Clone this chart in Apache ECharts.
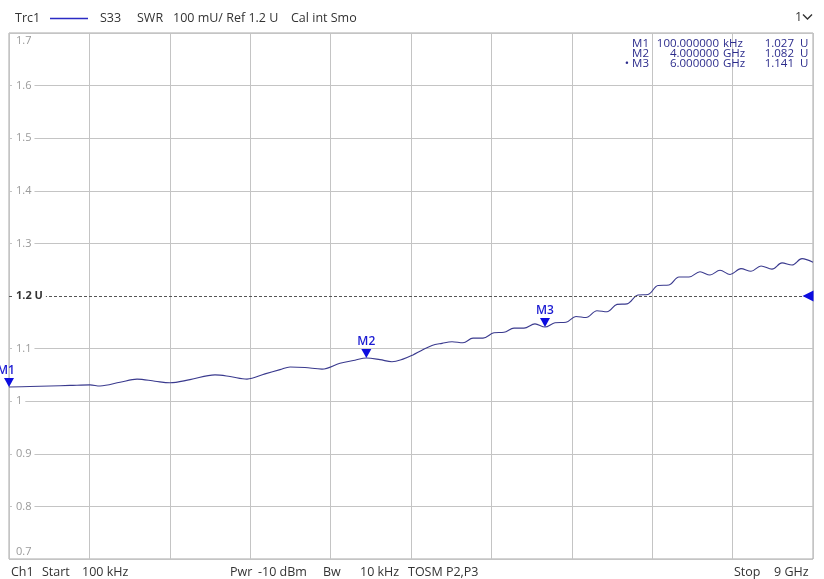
<!DOCTYPE html>
<html>
<head>
<meta charset="utf-8">
<script src="https://cdn.jsdelivr.net/npm/echarts@6/dist/echarts.min.js"></script>
<style>
html,body{margin:0;padding:0;background:#fff;}
#chart{width:824px;height:579px;}
</style>
</head>
<body>
<div id="chart"></div>
<script>
// ---- data ----
const freqGHz = [0.0001,0.235,0.459,0.683,0.907,1.019,1.243,1.433,1.634,1.802,2.026,2.306,2.474,2.664,2.866,3.034,3.146,3.313,3.504,3.705,3.873,4.0,4.153,4.287,4.410,4.522,
  4.612,4.735,4.847,4.959,5.082,5.194,5.306,5.429,5.541,5.653,5.765,5.888,6.0,6.112,6.235,6.347,6.459,6.582,6.694,6.806,6.918,7.041,7.153,7.265,7.388,7.500,7.612,7.735,7.847,7.959,8.071,8.194,8.306,8.418,8.541,8.653,8.765,8.877,9.0];
const swr = [1.027,1.028,1.029,1.030,1.031,1.029,1.036,1.042,1.038,1.035,1.041,1.050,1.047,1.042,1.052,1.060,1.065,1.064,1.061,1.072,1.078,1.082,1.079,1.075,1.080,1.088,
  1.096,1.106,1.110,1.113,1.111,1.120,1.120,1.130,1.131,1.139,1.139,1.147,1.141,1.149,1.150,1.161,1.159,1.172,1.170,1.184,1.185,1.202,1.203,1.220,1.221,1.236,1.236,1.246,1.240,1.249,1.241,1.252,1.247,1.257,1.251,1.263,1.259,1.271,1.264];

const markerNames = ['M1','M2','M3'];
const markerFreqGHz = [0.0001, 4.0, 6.0];
const markerSWR = [1.027, 1.082, 1.141];
const markerFreqText = ['100.000000','4.000000','6.000000'];
const markerUnit = ['kHz','GHz','GHz'];
const markerActive = [false,false,true];

const refLevel = 1.2;
const yTickValues = [0.7,0.8,0.9,1.0,1.1,1.2,1.3,1.4,1.5,1.6,1.7];
const yTickLabels = ['0.7','0.8','0.9','1','1.1','1.2 U','1.3','1.4','1.5','1.6','1.7'];
const xMin = 0, xMax = 9, xStep = 0.9;

const headerItems = ['Trc1','S33','SWR','100 mU/ Ref 1.2 U','Cal int Smo'];
const footerItems = ['Ch1','Start','100 kHz','Pwr','-10 dBm','Bw','10 kHz','TOSM P2,P3','Stop','9 GHz'];

// ---- chart ----
const FONT = '"Open Sans", "Noto Sans", sans-serif';
const chart = echarts.init(document.getElementById('chart'), null, {renderer:'canvas'});

const gridColors = yTickValues.map(v => Math.abs(v - refLevel) < 1e-9 ? 'rgba(0,0,0,0)' : '#c4c4c4');

function yLabel(v){
  let idx = -1;
  for (let i=0;i<yTickValues.length;i++){ if (Math.abs(yTickValues[i]-v)<1e-6) idx=i; }
  if (idx<0) return '';
  const t = yTickLabels[idx];
  if (idx===0 || idx===yTickValues.length-1) return '{e|'+t+'}';
  if (Math.abs(v-refLevel)<1e-6) return '{r|'+t+'}';
  return '{n|'+t+'}';
}

const hdrX = [15, 100, 137, 173, 291];
const ftrX = [11, 42, 82, 230, 258, 323, 360, 408, 734, 774];

const graphics = [];
headerItems.forEach((t,i)=>{
  graphics.push({type:'text', x:hdrX[i], y:18, style:{text:t, fill:'#333', font:'12.5px '+FONT, textVerticalAlign:'middle'}, z:10});
});
graphics.push({type:'line', shape:{x1:50,y1:18.5,x2:88,y2:18.5}, style:{stroke:'#2b2bc4', lineWidth:1.5}, z:10});
graphics.push({type:'text', x:795, y:17, style:{text:'1', fill:'#333', font:'12.5px '+FONT, textVerticalAlign:'middle'}, z:10});
graphics.push({type:'polyline', shape:{points:[[803,14.5],[807.5,19],[812,14.5]]}, style:{stroke:'#333', lineWidth:1.4, fill:null}, z:10});
footerItems.forEach((t,i)=>{
  graphics.push({type:'text', x:ftrX[i], y:572, style:{text:t, fill:'#333', font:'12.5px '+FONT, textVerticalAlign:'middle'}, z:10});
});
const rowY = [43.5, 53.5, 63.5];
markerNames.forEach((m,i)=>{
  const col = '#2c2c8c';
  const f = '11.5px '+FONT;
  graphics.push({type:'text', x:649, y:rowY[i], style:{text:(markerActive[i]?'\u2022 ':'')+m, fill:col, font:f, textAlign:'right', textVerticalAlign:'middle'}, z:10});
  graphics.push({type:'text', x:719, y:rowY[i], style:{text:markerFreqText[i], fill:col, font:f, textAlign:'right', textVerticalAlign:'middle'}, z:10});
  graphics.push({type:'text', x:723, y:rowY[i], style:{text:markerUnit[i], fill:col, font:f, textVerticalAlign:'middle'}, z:10});
  graphics.push({type:'text', x:794, y:rowY[i], style:{text:markerSWR[i].toFixed(3), fill:col, font:f, textAlign:'right', textVerticalAlign:'middle'}, z:10});
  graphics.push({type:'text', x:800, y:rowY[i], style:{text:'U', fill:col, font:f, textVerticalAlign:'middle'}, z:10});
});

const DOWN_TRI = 'path://M0,0 L10,0 L5,9 Z';
const LEFT_TRI = 'path://M0,5.5 L11,0 L11,11 Z';
const markerData = markerNames.map((m,i)=>({
  name:m, coord:[markerFreqGHz[i], markerSWR[i]],
  symbol:DOWN_TRI, symbolSize:[10,9], symbolOffset:[0,-4.5],
  label:{show:true, formatter:m, position:'top', distance:1, offset: i===0?[-3,0]:[0,0],
         color:'#1a1ad2', fontSize:12, fontWeight:600, fontFamily:FONT}
}));
markerData.push({name:'ref', coord:[xMax, refLevel], symbol:LEFT_TRI, symbolSize:[11,11], symbolOffset:[-5,0], label:{show:false}});

const option = {
  animation:false,
  backgroundColor:'#fff',
  grid:{left:9, right:11, top:33, bottom:20, show:true, borderColor:'#a8a8a8', borderWidth:1, backgroundColor:'transparent'},
  xAxis:{type:'value', min:xMin, max:xMax, interval:xStep,
    axisLine:{show:false}, axisTick:{show:false}, axisLabel:{show:false},
    splitLine:{show:true, lineStyle:{color:'#c4c4c4', width:1}}},
  yAxis:[
    {type:'value', position:'left', min:0.7, max:1.7, interval:0.1,
      axisLine:{show:false}, axisTick:{show:false}, axisLabel:{show:false},
      splitLine:{show:true, lineStyle:{color:gridColors, width:1}}},
    {type:'value', position:'left', offset:0, min:0.7, max:1.7, interval:0.1, z:5,
      axisLine:{show:false}, axisTick:{show:false}, splitLine:{show:false},
      axisLabel:{show:true, inside:true, margin:3, formatter:yLabel,
        verticalAlignMinLabel:'bottom', verticalAlignMaxLabel:'top',
        rich:{
          n:{color:'#9a9a9a', fontSize:11, fontFamily:FONT, backgroundColor:'#fff', padding:[1,3,1,4]},
          r:{color:'#333', fontSize:11, fontWeight:'bold', fontFamily:FONT, backgroundColor:'#fff', padding:[1,3,1,4]},
          e:{color:'#9a9a9a', fontSize:11, fontFamily:FONT, padding:[2,3,2,4]}
        }}}
  ],
  series:[{
    type:'line', xAxisIndex:0, yAxisIndex:0,
    data: freqGHz.map((f,i)=>[f, swr[i]]),
    showSymbol:false, symbol:'none', smooth:0.35,
    lineStyle:{color:'#3a3a8e', width:1.1},
    markLine:{silent:true, symbol:'none', label:{show:false},
      lineStyle:{color:'#555', type:[3,2], width:1},
      data:[{yAxis:refLevel}]},
    markPoint:{silent:true, itemStyle:{color:'#0c0ce0'}, data:markerData}
  }],
  graphic:graphics
};
chart.setOption(option);
</script>
</body>
</html>
